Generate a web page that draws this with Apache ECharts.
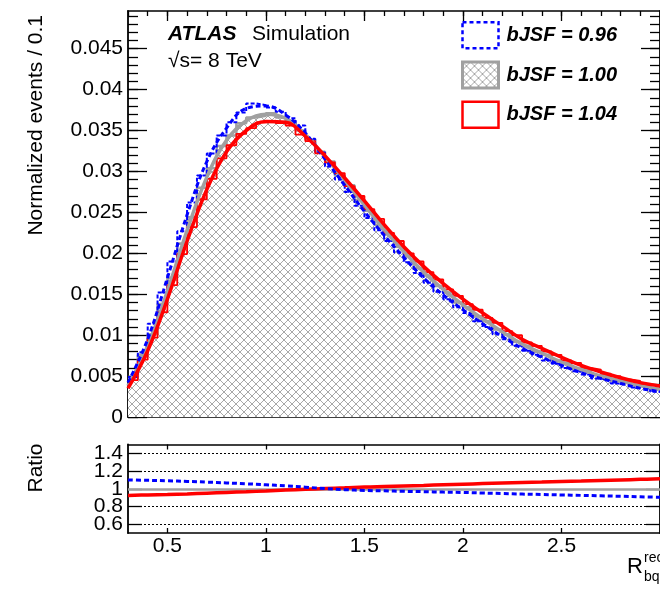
<!DOCTYPE html>
<html><head><meta charset="utf-8">
<script src="https://cdn.jsdelivr.net/npm/echarts@6/dist/echarts.min.js"></script>
<style>html,body{margin:0;padding:0;background:#fff}#c{width:660px;height:591px}</style>
</head><body><div id="c"></div>
<script>
const FONT = '"Liberation Sans", Arial, Helvetica, sans-serif';

// ---- data ----
const binStart = 0.3, binWidth = 0.05;
const blueHist = [0.0049,0.0079,0.0114,0.0152,0.0190,0.0227,0.0262,0.0295,0.0322,0.0344,
  0.0360,0.0372,0.0383,0.0381,0.0378,0.0373,0.0365,0.0356,0.0340,0.0323,
  0.0306,0.0290,0.0275,0.0258,0.0243,0.0228,0.0215,0.0201,0.0189,0.0176,
  0.0164,0.0153,0.0144,0.0134,0.0127,0.0117,0.0110,0.0101,0.0095,0.0087,
  0.0081,0.0076,0.0069,0.0065,0.0060,0.0056,0.0052,0.0047,0.0045,0.0041,
  0.0039,0.0036,0.0034,0.0031];
const greyHist = [0.0049,0.0076,0.0101,0.0138,0.0170,0.0212,0.0244,0.0280,0.0304,0.0331,
  0.0344,0.0359,0.0366,0.0368,0.0371,0.0366,0.0362,0.0350,0.0339,0.0324,
  0.0312,0.0295,0.0283,0.0265,0.0252,0.0235,0.0223,0.0208,0.0197,0.0182,
  0.0173,0.0160,0.0152,0.0140,0.0134,0.0123,0.0117,0.0107,0.0101,0.0092,
  0.0087,0.0080,0.0076,0.0069,0.0066,0.0059,0.0057,0.0051,0.0050,0.0044,
  0.0043,0.0039,0.0038,0.0034];
const redHist = [0.0045,0.0070,0.0097,0.0128,0.0161,0.0199,0.0232,0.0266,0.0291,0.0316,
  0.0332,0.0346,0.0353,0.0360,0.0362,0.0359,0.0356,0.0345,0.0337,0.0322,
  0.0311,0.0298,0.0282,0.0270,0.0254,0.0242,0.0225,0.0215,0.0200,0.0190,
  0.0177,0.0168,0.0156,0.0148,0.0138,0.0131,0.0121,0.0115,0.0105,0.0100,
  0.0091,0.0087,0.0080,0.0076,0.0069,0.0066,0.0060,0.0058,0.0053,0.0050,
  0.0046,0.0044,0.0040,0.0039];

const fitX = [0.3,0.4,0.5,0.6,0.7,0.8,0.9,1.0,1.1,1.2,1.3,1.4,1.5,1.6,1.7,1.8,1.9,2.0,2.1,2.2,2.3,2.4,2.5,2.6,2.7,2.8,2.9,3.0];
const blueFit = [0.0042,0.0095,0.0170,0.0247,0.0312,0.0353,0.0377,0.0380,0.0369,0.0347,0.0315,0.0283,0.0251,0.0222,0.0195,0.0170,0.0149,0.0131,0.0114,0.0098,0.0084,0.0073,0.0063,0.0054,0.0047,0.0041,0.0035,0.0031];
const greyFit = [0.0038,0.0087,0.0154,0.0228,0.0293,0.0338,0.0362,0.0370,0.0365,0.0345,0.0318,0.0289,0.0259,0.0229,0.0202,0.0177,0.0156,0.0137,0.0120,0.0104,0.0089,0.0078,0.0067,0.0058,0.0050,0.0044,0.0038,0.0034];
const redFit = [0.0035,0.0081,0.0144,0.0215,0.0278,0.0324,0.0350,0.0361,0.0360,0.0343,0.0319,0.0292,0.0264,0.0235,0.0208,0.0184,0.0163,0.0144,0.0127,0.0111,0.0095,0.0084,0.0073,0.0063,0.0055,0.0048,0.0042,0.0038];

const ratioBlue = [1.100,1.095,1.090,1.083,1.075,1.066,1.056,1.045,1.032,1.018,1.002,0.990,0.981,0.976,0.971,0.967,0.962,0.958,0.952,0.946,0.940,0.935,0.930,0.925,0.920,0.915,0.909,0.904];
const ratioRed = [0.925,0.930,0.935,0.942,0.950,0.958,0.966,0.975,0.985,0.994,1.002,1.010,1.020,1.026,1.032,1.038,1.045,1.052,1.058,1.064,1.070,1.076,1.083,1.088,1.094,1.100,1.106,1.112];
const ratioUnity = 1;
const ratioDotted = [0.6, 0.8, 1.2, 1.4];

const seriesNames = ['bJSF = 0.96', 'bJSF = 1.00', 'bJSF = 1.04'];

// ---- ticks / labels ----
const xMajorTicks = [0.5, 1, 1.5, 2, 2.5, 3];
const xLabels = [0.5, 1, 1.5, 2, 2.5];
const yMajorTicks = [0, 0.005, 0.01, 0.015, 0.02, 0.025, 0.03, 0.035, 0.04, 0.045];
const ratioTicks = [0.6, 0.8, 1, 1.2, 1.4];
const ratioLabelsA = [0.6, 1, 1.4];
const ratioLabelsB = [0.8, 1.2];
const xMinorTicks = []; for (let k = 3; k <= 30; k++) xMinorTicks.push(k / 10);
const yMinorTicks = []; for (let k = 0; k <= 49; k++) yMinorTicks.push(k / 1000);

// ---- helpers ----
function stepData(vals) {
  const d = vals.map((v, i) => [+(binStart + i * binWidth).toFixed(3), v]);
  d.push([+(binStart + vals.length * binWidth).toFixed(3), vals[vals.length - 1]]);
  return d;
}
function pairs(xs, ys) { return xs.map((x, i) => [x, ys[i]]); }

const pc = document.createElement('canvas');
pc.width = 8; pc.height = 8;
(function () {
  const c = pc.getContext('2d');
  c.fillStyle = '#ffffff'; c.fillRect(0, 0, 8, 8);
  c.strokeStyle = '#a8a8a8'; c.lineWidth = 1;
  c.beginPath();
  c.moveTo(-1, -1); c.lineTo(9, 9);
  c.moveTo(9, -1); c.lineTo(-1, 9);
  c.stroke();
})();
const hatch = { image: pc, repeat: 'repeat' };

const BLUE = '#0000ff', RED = '#ff0000', GREY = '#a0a0a0';

const GMAIN = { left: 128, top: 11, width: 543, height: 406 };
const GRATIO = { left: 128, top: 444.5, width: 543, height: 88.5 };

function xAx(grid, pos, ticks, len, line, labels, range) {
  return {
    gridIndex: grid, type: 'value', position: pos, min: range[0], max: range[1],
    axisLine: { show: line, onZero: false, lineStyle: { color: '#000', width: 1.5 } },
    axisTick: ticks ? { show: true, inside: true, length: len, customValues: ticks, lineStyle: { color: '#000', width: 1.3 } } : { show: false },
    axisLabel: labels ? { show: true, customValues: labels, showMinLabel: true, showMaxLabel: true, hideOverlap: false, margin: 3, color: '#000', fontFamily: FONT, fontSize: 21 } : { show: false },
    splitLine: { show: false }
  };
}
function yAx(grid, pos, ticks, len, line, labels, range) {
  return {
    gridIndex: grid, type: 'value', position: pos, min: range[0], max: range[1],
    axisLine: { show: line, onZero: false, lineStyle: { color: '#000', width: 1.8 } },
    axisTick: ticks ? { show: true, inside: true, length: len, customValues: ticks, lineStyle: { color: '#000', width: 1.3 } } : { show: false },
    axisLabel: labels ? { show: true, customValues: labels, showMinLabel: true, showMaxLabel: true, hideOverlap: false, margin: 5, color: '#000', fontFamily: FONT, fontSize: 21 } : { show: false },
    splitLine: { show: false }
  };
}
const XR = [0.3, 3.0], YR = [0, 0.0496], RR = [0.5, 1.5];

const chart = echarts.init(document.getElementById('c'));
chart.setOption({
  animation: false,
  backgroundColor: '#fff',
  grid: [GMAIN, GMAIN, GRATIO, GRATIO],
  xAxis: [
    xAx(0, 'bottom', xMajorTicks, 10, true, null, XR),
    xAx(0, 'top', xMajorTicks, 10, true, null, XR),
    xAx(1, 'bottom', xMinorTicks, 5, false, null, XR),
    xAx(1, 'top', xMinorTicks, 5, false, null, XR),
    xAx(2, 'bottom', xMajorTicks, 5, true, xLabels, XR),
    xAx(2, 'top', xMajorTicks, 5, true, null, XR),
    xAx(3, 'bottom', null, 0, false, null, XR)
  ],
  yAxis: [
    yAx(0, 'left', yMajorTicks, 19, true, yMajorTicks, YR),
    yAx(0, 'right', yMajorTicks, 19, true, null, YR),
    yAx(1, 'left', yMinorTicks, 10, false, null, YR),
    yAx(1, 'right', yMinorTicks, 10, false, null, YR),
    yAx(2, 'left', ratioTicks, 14, true, ratioLabelsA, RR),
    yAx(2, 'right', ratioTicks, 14, true, null, RR),
    yAx(3, 'left', null, 0, false, ratioLabelsB, RR)
  ],
  legend: {
    orient: 'vertical', left: 461, top: 21, padding: 0,
    itemWidth: 36, itemHeight: 26, itemGap: 11, selectedMode: false,
    textStyle: { fontFamily: FONT, fontSize: 20, fontWeight: 'bold', fontStyle: 'italic', color: '#000', padding: [0, 0, 0, 3] },
    data: [
      { name: seriesNames[0], icon: 'rect', itemStyle: { color: 'rgba(0,0,0,0)', borderColor: BLUE, borderWidth: 2.5, borderType: [4, 3] } },
      { name: seriesNames[1], icon: 'rect', itemStyle: { color: hatch, borderColor: GREY, borderWidth: 3 } },
      { name: seriesNames[2], icon: 'rect', itemStyle: { color: 'rgba(0,0,0,0)', borderColor: RED, borderWidth: 2.5 } }
    ]
  },
  graphic: [
    { type: 'text', x: 168, y: 34, style: { text: 'ATLAS', font: 'italic bold 21px ' + FONT, fill: '#000', textAlign: 'left', textVerticalAlign: 'middle' } },
    { type: 'text', x: 252, y: 34, style: { text: 'Simulation', font: '21px ' + FONT, fill: '#000', textAlign: 'left', textVerticalAlign: 'middle' } },
    { type: 'text', x: 168, y: 61, style: { text: '\u221As= 8 TeV', font: '21px ' + FONT, fill: '#000', textAlign: 'left', textVerticalAlign: 'middle' } },
    { type: 'text', x: 36, y: 15, rotation: Math.PI / 2, style: { text: 'Normalized events / 0.1', font: '21px ' + FONT, fill: '#000', textAlign: 'right', textVerticalAlign: 'middle' } },
    { type: 'text', x: 36, y: 468, rotation: Math.PI / 2, style: { text: 'Ratio', font: '21px ' + FONT, fill: '#000', textAlign: 'center', textVerticalAlign: 'middle' } },
    { type: 'text', x: 627, y: 567, style: { text: 'R', font: '22px ' + FONT, fill: '#000', textAlign: 'left', textVerticalAlign: 'middle' } },
    { type: 'text', x: 644, y: 558, style: { text: 'reco', font: '14px ' + FONT, fill: '#000', textAlign: 'left', textVerticalAlign: 'middle' } },
    { type: 'text', x: 644, y: 577, style: { text: 'bq', font: '14px ' + FONT, fill: '#000', textAlign: 'left', textVerticalAlign: 'middle' } }
  ],
  series: [
    { name: seriesNames[1], type: 'line', xAxisIndex: 0, yAxisIndex: 0, step: 'end', symbol: 'none', z: 1,
      data: stepData(greyHist), lineStyle: { color: GREY, width: 2.5 }, itemStyle: { color: GREY },
      areaStyle: { color: hatch, opacity: 1 } },
    { name: seriesNames[0], type: 'line', xAxisIndex: 0, yAxisIndex: 0, step: 'end', symbol: 'none', z: 2,
      data: stepData(blueHist), lineStyle: { color: BLUE, width: 2, type: [4, 2] }, itemStyle: { color: BLUE } },
    { name: seriesNames[2], type: 'line', xAxisIndex: 0, yAxisIndex: 0, step: 'end', symbol: 'none', z: 2,
      data: stepData(redHist), lineStyle: { color: RED, width: 1.8 }, itemStyle: { color: RED } },
    { type: 'line', xAxisIndex: 0, yAxisIndex: 0, smooth: 0.4, symbol: 'none', z: 3,
      data: pairs(fitX, greyFit), lineStyle: { color: GREY, width: 3.5 } },
    { type: 'line', xAxisIndex: 0, yAxisIndex: 0, smooth: 0.4, symbol: 'none', z: 4,
      data: pairs(fitX, blueFit), lineStyle: { color: BLUE, width: 3, type: [5, 3] } },
    { type: 'line', xAxisIndex: 0, yAxisIndex: 0, smooth: 0.4, symbol: 'none', z: 4,
      data: pairs(fitX, redFit), lineStyle: { color: RED, width: 3.5 } },
    { type: 'line', xAxisIndex: 4, yAxisIndex: 4, smooth: 0.4, symbol: 'none', z: 4,
      data: pairs(fitX, ratioRed), lineStyle: { color: RED, width: 3.5 },
      markLine: { silent: true, symbol: 'none', z: 1, label: { show: false },
        data: ratioDotted.map(v => ({ yAxis: v, lineStyle: { color: '#000', width: 1, type: [2, 2] } }))
          .concat([{ yAxis: ratioUnity, lineStyle: { color: GREY, width: 2.5, type: 'solid' } }]) } },
    { type: 'line', xAxisIndex: 4, yAxisIndex: 4, smooth: 0.4, symbol: 'none', z: 4,
      data: pairs(fitX, ratioBlue), lineStyle: { color: BLUE, width: 3, type: [5, 3] } }
  ]
});
</script></body></html>
